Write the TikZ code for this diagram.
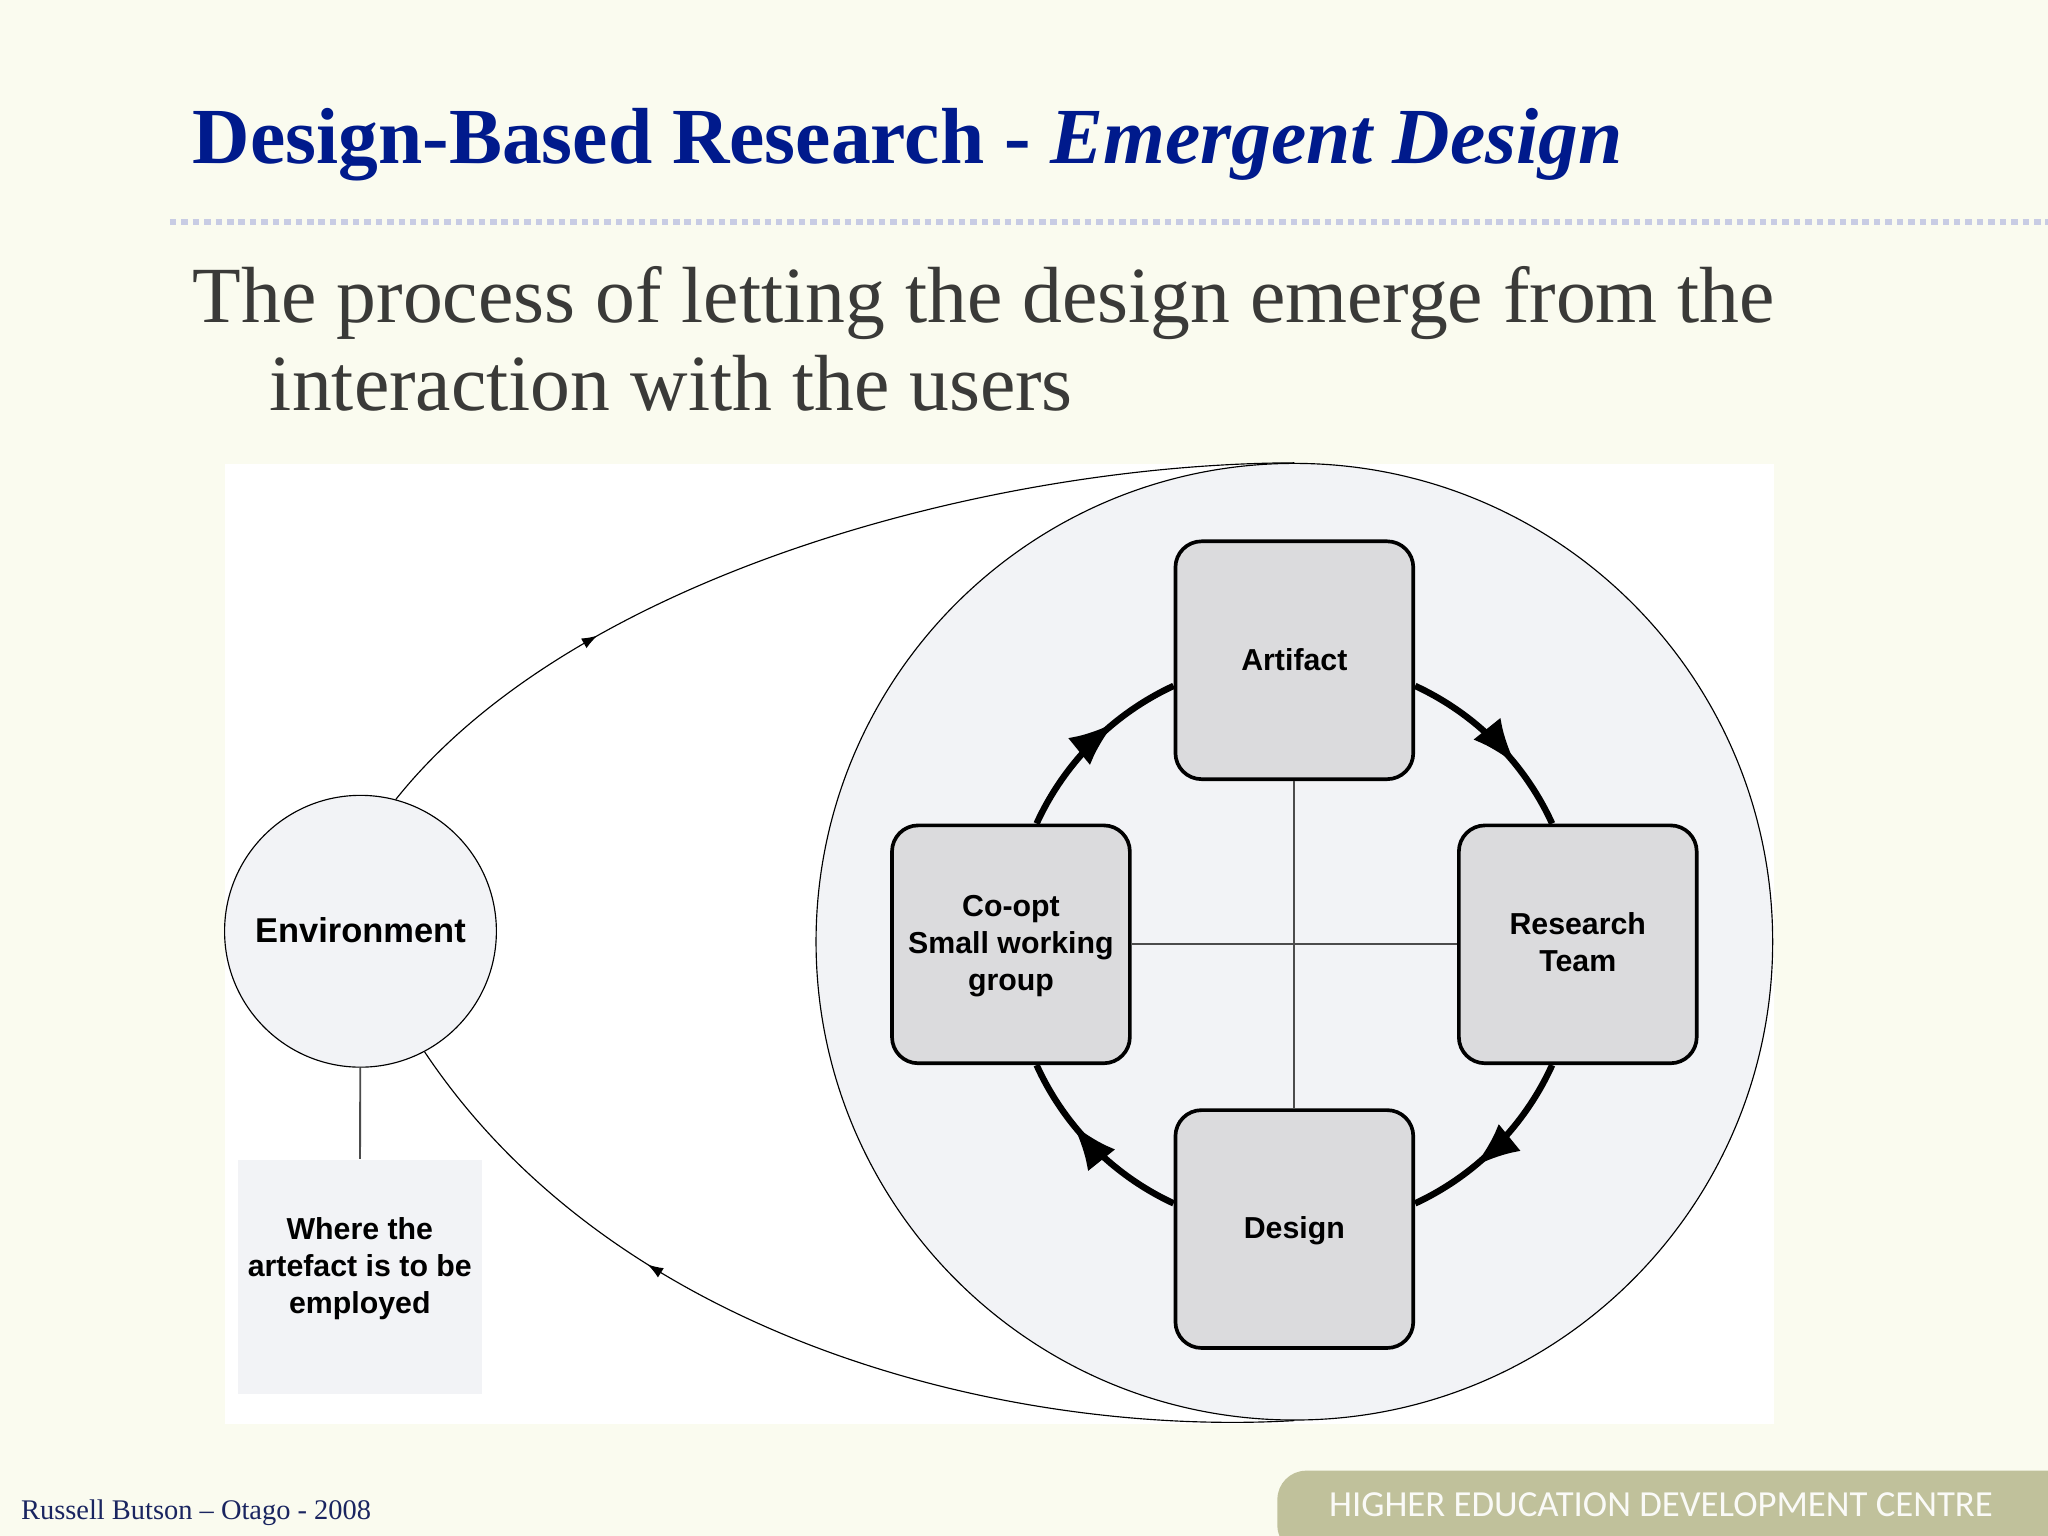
\documentclass[tikz,border=0pt]{standalone}
\usepackage{fontspec}
\setmainfont{Liberation Serif}
\newfontfamily\labelfont{Liberation Sans}
\newfontfamily\bannerfont{Carlito}
\usetikzlibrary{arrows.meta,decorations.markings}
\definecolor{slidebg}{HTML}{FAFBEF}
\definecolor{titleblue}{HTML}{001A8C}
\definecolor{bodygrey}{HTML}{3A3A38}
\definecolor{rulelilac}{HTML}{C8CCE4}
\definecolor{palefill}{HTML}{F2F3F6}
\definecolor{boxfill}{HTML}{DBDBDD}
\definecolor{bannertan}{HTML}{C0C19B}
\definecolor{footnavy}{HTML}{1A2560}
\tikzset{
  phase/.style={draw,line width=.8pt,fill=boxfill,rounded corners=.2cm,minimum size=1.82cm,inner sep=0pt,align=center,
    font=\labelfont\bfseries\fontsize{6.6}{8}\selectfont},
  oneline/.style={text height=4.26pt,text depth=0pt},
  ringarc/.style={line width=1.4pt,bend left=20.35,looseness=.88,postaction={decorate},
    decoration={markings,mark=at position .65 with {\arrow{Latex[length=10pt,width=7.6pt]}}}},
  flowline/.style={line width=.25pt,postaction={decorate},
    decoration={markings,mark=at position #1 with {\arrow{Latex[length=3.4pt,width=2.4pt]}}}},
  crossline/.style={line width=.4pt,black!70},
}
\begin{document}
\begin{tikzpicture}[x=.01cm,y=-.01cm]
\useasboundingbox (0,0) rectangle (1568,1176);
\fill[slidebg] (0,0) rectangle (1568,1176);

\node[anchor=base west,inner sep=0pt,text=titleblue,font=\fontsize{17.31}{20}\selectfont\bfseries] (title) at (147,125) {Design-Based Research - \textit{Emergent Design}};
\draw[rulelilac,line width=1.42pt,dash pattern=on 1.42pt off 1.07pt] (130,170) -- (1568,170);
\node[anchor=base west,inner sep=0pt,text=bodygrey,font=\fontsize{17.34}{20}\selectfont] (line1) at (147,247) {The process of letting the design emerge from the};
\node[anchor=base west,inner sep=0pt,text=bodygrey,font=\fontsize{17.34}{20}\selectfont] (line2) at (206,314) {interaction with the users};

\fill[white] (172,355) rectangle (1358,1090);

\node[draw,circle,line width=.25pt,fill=palefill,minimum size=7.32cm,inner sep=0pt] (system) at (991,721) {};
\node[draw,circle,line width=.25pt,fill=palefill,minimum size=2.08cm,inner sep=0pt,font=\labelfont\bfseries\fontsize{7.5}{9}\selectfont] (env) at (276,713) {Environment\rule[-.57pt]{0pt}{0pt}};
\node[fill=palefill,minimum width=1.87cm,minimum height=1.79cm,inner sep=0pt,align=center,font=\labelfont\bfseries\fontsize{6.6}{8}\selectfont] (where) at (275.5,977.5) {Where the\\artefact is to be\\employed\rule[-4.8pt]{0pt}{0pt}};

\node[phase,oneline] (artifact) at (991,505.5) {Artifact};
\node[phase] (research) at (1208,723) {Research\\Team\rule[-.85pt]{0pt}{0pt}};
\node[phase,oneline] (design) at (991,941) {Design};
\node[phase] (coopt) at (774,723) {\rule{0pt}{5.3pt}Co-opt\\Small working\\group};

\draw[crossline] (artifact) -- (design);
\draw[crossline] (coopt) -- (research);
\draw[crossline] (env) -- (where);

\draw[ringarc] (artifact.-12) to (research.102);
\draw[ringarc] (research.-102) to (design.12);
\draw[ringarc] (design.168) to (coopt.-78);
\draw[ringarc] (coopt.78) to (artifact.192);

\draw[flowline=.265] (env.75) .. controls (440,440) and (760,355) .. (system.north);
\draw[flowline=.685] (system.south) .. controls (780,1100) and (475,1030) .. (env.-62);

\fill[bannertan,rounded corners=.22cm] (978,1190) -- (978,1126) -- (1600,1126) -- (1600,1190) -- cycle;
\node[anchor=base west,inner sep=0pt,text=white!92!bannertan,font=\bannerfont\fontsize{8}{10}\selectfont] (banner) at (1017,1161) {HIGHER EDUCATION DEVELOPMENT CENTRE};
\node[anchor=base west,inner sep=0pt,text=footnavy,font=\fontsize{6.19}{8}\selectfont] (credit) at (15.5,1163) {Russell Butson – Otago - 2008};
\end{tikzpicture}
\end{document}
